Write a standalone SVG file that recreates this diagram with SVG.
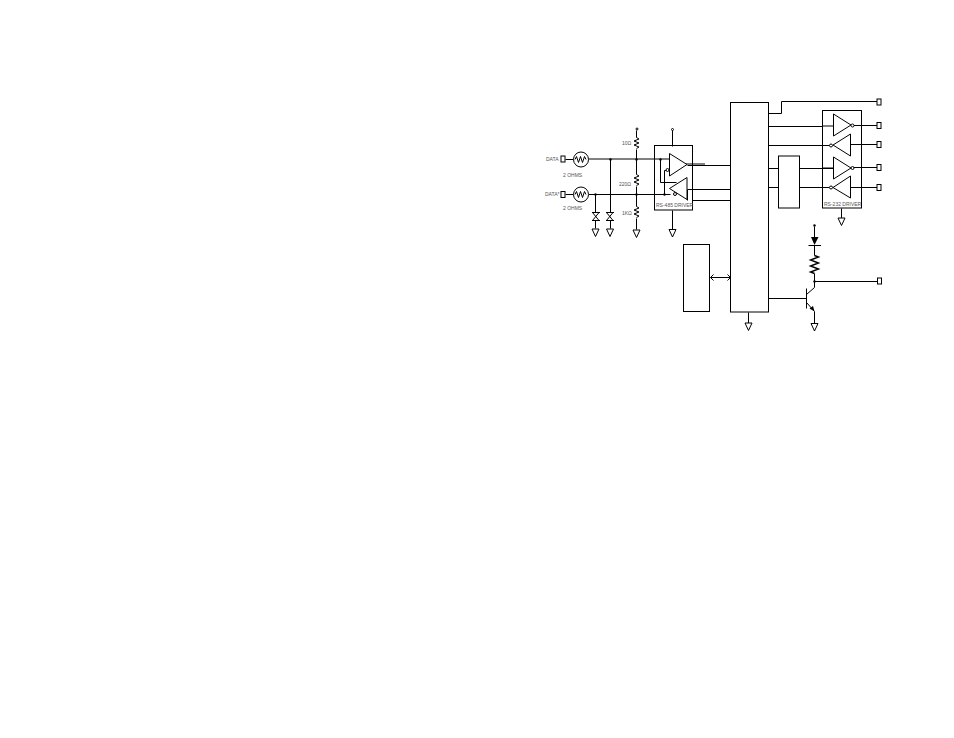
<svg xmlns="http://www.w3.org/2000/svg" width="954" height="738" viewBox="0 0 954 738">
<defs>
<style>
.l{fill:none;stroke:#000;stroke-width:1}
.g{fill:none;stroke:#808080;stroke-width:2}
.w{fill:#fff;stroke:#000;stroke-width:1}
.t{font-family:"Liberation Sans",Arial,sans-serif;font-size:5px;fill:#555}
.d{fill:#000}
</style>
<g id="gnd"><path class="w" d="M-3.500 0H3.500L0 7.500Z"/></g>
<g id="port"><rect class="w" x="-2" y="-3" width="4" height="6"/></g>
</defs>
<rect width="954" height="738" fill="#fff"/>
<g id="connectors">
<path class="g" d="M586 159H661M661 159H669M686 164H705M822 126H834M822 168H834"/>
<g transform="translate(.5 .5)">
<path class="l" d="M588 194H664H670"/>
<path class="l" d="M565 159H573M565 194H573"/>
<path class="l" d="M595 194V212M595 220V228"/>
<path class="l" d="M610 159V212M610 220V228"/>
<path class="l" d="M636 130V137M636 149V174M636 186V206M636 218V229"/>
<path class="l" d="M636 137l2.500 1.500l-5 2l5 2l-5 2l5 2l-2.500 1.500"/>
<path class="l" d="M636 174l2.500 1.500l-5 2l5 2l-5 2l5 2l-2.500 1.500"/>
<path class="l" d="M636 206l2.500 1.500l-5 2l5 2l-5 2l5 2l-2.500 1.500"/>
<path class="l" d="M672 130V146M672 210V229"/>
<path class="l" d="M660 159V182H676M664 170V194M664 170H667"/>
<path class="l" d="M687 165H730M687 189H730M692 200H730M687 189V200"/>
<path class="l" d="M768 113H781V101H877"/>
<path class="l" d="M768 126H822M768 145H822M768 168H778M768 187H778M799 168H833M799 187H829M822 145H829"/>
<path class="l" d="M853 125H877M850 144H877M853 167H877M850 187H877"/>
<path class="l" d="M841 208V218"/>
<path class="l" d="M748 312V323"/>
<path class="l" d="M768 298H806"/>
<path class="l" d="M710 277H730M710 277l3 -3M710 277l3 3M730 277l-3 -3M730 277l-3 3"/>
<path class="l" d="M814 226V237M814 245V255M814 273V281H877"/>
<path class="l" style="stroke-width:1.400" d="M814 255l4 1.500l-8 3l8 3l-8 3l8 3l-8 3l4 1.500"/>
<path class="l" d="M806 288V308M806 294L814 287V281M806 302L814 311V323"/>
</g>
</g>
<g id="data-in"><use href="#port" x="563" y="159"/><text class="t" x="546" y="161">DATA</text></g>
<g id="data-in-n"><use href="#port" x="563" y="194.500"/><text class="t" x="545" y="196">DATA*</text></g>
<g id="fuse1"><circle class="w" cx="581" cy="159.500" r="7.500"/><path class="l" d="M575 159.500l1.500 -3l2 6l2 -6l2 6l2 -6l1.500 3"/><text class="t" x="563" y="177">2 OHMS</text></g>
<g id="fuse2"><circle class="w" cx="581" cy="194.500" r="7.500"/><path class="l" d="M575 194.500l1.500 -3l2 6l2 -6l2 6l2 -6l1.500 3"/><text class="t" x="563" y="210">2 OHMS</text></g>
<g id="tvs1"><path class="l" d="M592 212.500H600M592 220.500H600M592.500 212.500L599 220.500H592.500L599 212.500Z"/><use href="#gnd" x="595.500" y="229"/></g>
<g id="tvs2"><path class="l" d="M606 212.500H614M606 220.500H614M606.500 212.500L613 220.500H606.500L613 212.500Z"/><use href="#gnd" x="610" y="229"/></g>
<g id="resistors"><circle class="w" cx="637" cy="129" r="1"/><text class="t" x="622" y="145">10Ω</text><text class="t" x="619" y="186">220Ω</text><text class="t" x="622" y="215">1KΩ</text><use href="#gnd" x="636.500" y="230"/></g>
<g id="dots">
<circle class="d" cx="610.500" cy="159.500" r="1.200"/><circle class="d" cx="595.500" cy="194.500" r="1.200"/><circle class="d" cx="636.500" cy="159.500" r="1.200"/><circle class="d" cx="636.500" cy="194.500" r="1.200"/><circle class="d" cx="660.500" cy="159.500" r="1.200"/><circle class="d" cx="664.500" cy="194.500" r="1.200"/><circle class="d" cx="814.500" cy="281.500" r="1.200"/><circle class="d" cx="814.500" cy="225.500" r="1.200"/>
</g>
<g id="rs485">
<rect class="l" x="654.500" y="145.500" width="38" height="64.500"/>
<path class="w" d="M669.500 153.500V176L687 164.500Z"/>
<path class="w" d="M687 177.500V199.500L669.500 188.500Z"/>
<circle class="w" cx="667.500" cy="170" r="1.500"/><circle class="w" cx="675" cy="194" r="1.500"/>
<circle class="w" cx="672.500" cy="129.500" r="1"/>
<text class="t" x="656" y="207">RS-485 DRIVER</text>
<use href="#gnd" x="672.500" y="229.500"/>
</g>
<g id="mcu"><rect class="w" x="730.500" y="102.500" width="38" height="209.500"/><use href="#gnd" x="748.500" y="323"/></g>
<g id="memory"><rect class="w" x="683.500" y="244.500" width="26" height="67"/></g>
<g id="block"><rect class="w" x="778.500" y="156" width="21" height="52"/></g>
<g id="rs232">
<rect class="l" x="822.500" y="110.500" width="39" height="97.500"/>
<path class="w" d="M833.500 114V136L851 125Z"/>
<path class="w" d="M850.500 134V156L833 145Z"/>
<path class="w" d="M833.500 157V179L851 168Z"/>
<path class="w" d="M850.500 176V198L833 187.500Z"/>
<circle class="w" cx="852.500" cy="125.500" r="1.500"/><circle class="w" cx="831" cy="145.500" r="1.500"/><circle class="w" cx="852.500" cy="168" r="1.500"/><circle class="w" cx="831" cy="187.500" r="1.500"/>
<text class="t" x="824" y="206">RS-232 DRIVER</text>
<use href="#gnd" x="841.500" y="218"/>
</g>
<g id="ports"><use href="#port" x="879" y="102"/><use href="#port" x="879" y="125.500"/><use href="#port" x="879" y="144.500"/><use href="#port" x="879" y="167.500"/><use href="#port" x="879" y="187.500"/><use href="#port" x="879.500" y="281"/></g>
<g id="led"><path class="d" d="M811 237H818.500L814.500 245Z"/><path class="l" d="M808.500 245.500H821"/></g>
<g id="transistor-gnd"><use href="#gnd" x="814.500" y="323.500"/><path class="d" d="M814.500 311.500L809.500 308.500L813 306Z"/></g>
</svg>
